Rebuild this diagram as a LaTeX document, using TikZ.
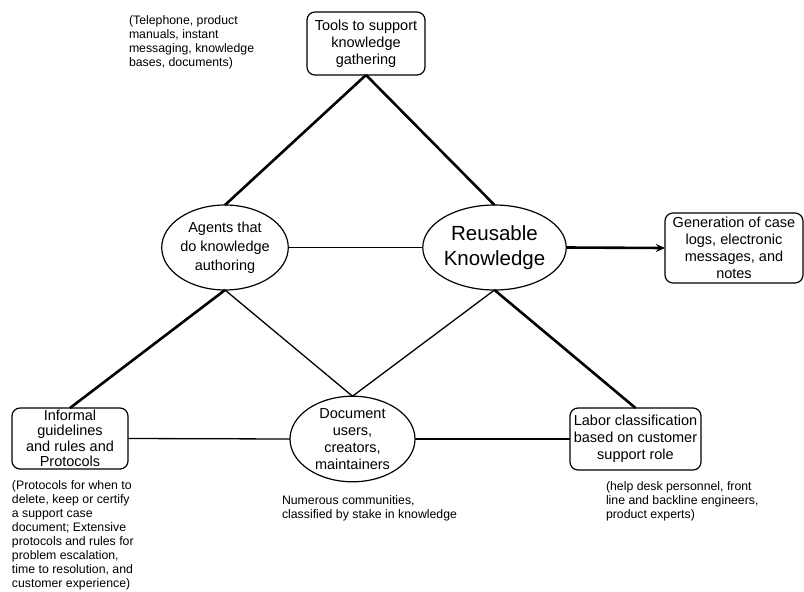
\documentclass[tikz,border=0pt]{standalone}
\usepackage{fontspec}
\setmainfont{Liberation Sans}
\usetikzlibrary{shapes.geometric,arrows.meta}
\begin{document}
\begin{tikzpicture}[x=1pt,y=-1pt,
  every node/.style={inner sep=0pt,outer sep=0pt},
  box/.style={draw,rounded corners=8pt,line width=1.2pt,align=center,
    font=\fontsize{14.5}{17}\selectfont},
  oval/.style={draw,ellipse,line width=1.2pt,align=center,
    font=\fontsize{14.5}{19}\selectfont},
  note/.style={anchor=north west,align=left,font=\fontsize{12.3}{13.9}\selectfont},
  strong/.style={line width=2.6pt},
  weak/.style={line width=1.3pt}]
\useasboundingbox (0,0) rectangle (804,592);

% nodes
\node[box,minimum width=118pt,minimum height=63pt] (tools) at (366,43.5)
  {Tools to support\\knowledge\\gathering};
\node[oval,minimum width=124pt,minimum height=85pt] (agents) at (225,247.5)
  {Agents that\\do knowledge\\authoring};
\node[oval,minimum width=125pt,minimum height=85pt,
  font=\fontsize{20.5}{25}\selectfont] (reuse) at (494.5,247.5)
  {Reusable\\Knowledge};
\node[box,minimum width=138pt,minimum height=70pt] (gen) at (734,248)
  {Generation of case\\logs, electronic\\messages, and\\notes};
\node[box,minimum width=116pt,minimum height=61pt,
  font=\fontsize{14.5}{15.5}\selectfont] (informal) at (70,438.5)
  {Informal\\guidelines\\and rules and\\Protocols};
\node[oval,minimum width=125pt,minimum height=80pt,
  font=\fontsize{14.5}{16.8}\selectfont] (docs) at (352.5,439)
  {Document\\users,\\creators,\\maintainers};
\node[box,minimum width=131pt,minimum height=62pt] (labor) at (635.5,439)
  {Labor classification\\based on customer\\support role};

% side notes
\node[note] (toolsnote) at (129,16)
  {(Telephone, product\\manuals, instant\\messaging, knowledge\\bases, documents)};
\node[note] (informalnote) at (12,481)
  {(Protocols for when to\\delete, keep or certify\\a support case\\document; Extensive\\protocols and rules for\\problem escalation,\\time to resolution, and\\customer experience)};
\node[note] (docsnote) at (282,496)
  {Numerous communities,\\classified by stake in knowledge};
\node[note] (labornote) at (606,482)
  {(help desk personnel, front\\line and backline engineers,\\product experts)};

% connectors
\draw[strong] (tools.south) -- (agents.north);
\draw[strong] (tools.south) -- (reuse.north);
\draw[weak] (agents.east) -- (reuse.west);
\draw[strong,-{Stealth[length=9pt,width=8pt]}] (reuse.east) -- (gen.west);
\draw[strong] (agents.south) -- (informal.north);
\draw[weak] (agents.south) -- (docs.north);
\draw[weak] (reuse.south) -- (docs.north);
\draw[strong] (reuse.south) -- (labor.north);
\draw[weak] (informal.east) -- (docs.west);
\draw[weak] (docs.east) -- (labor.west);
\end{tikzpicture}
\end{document}
